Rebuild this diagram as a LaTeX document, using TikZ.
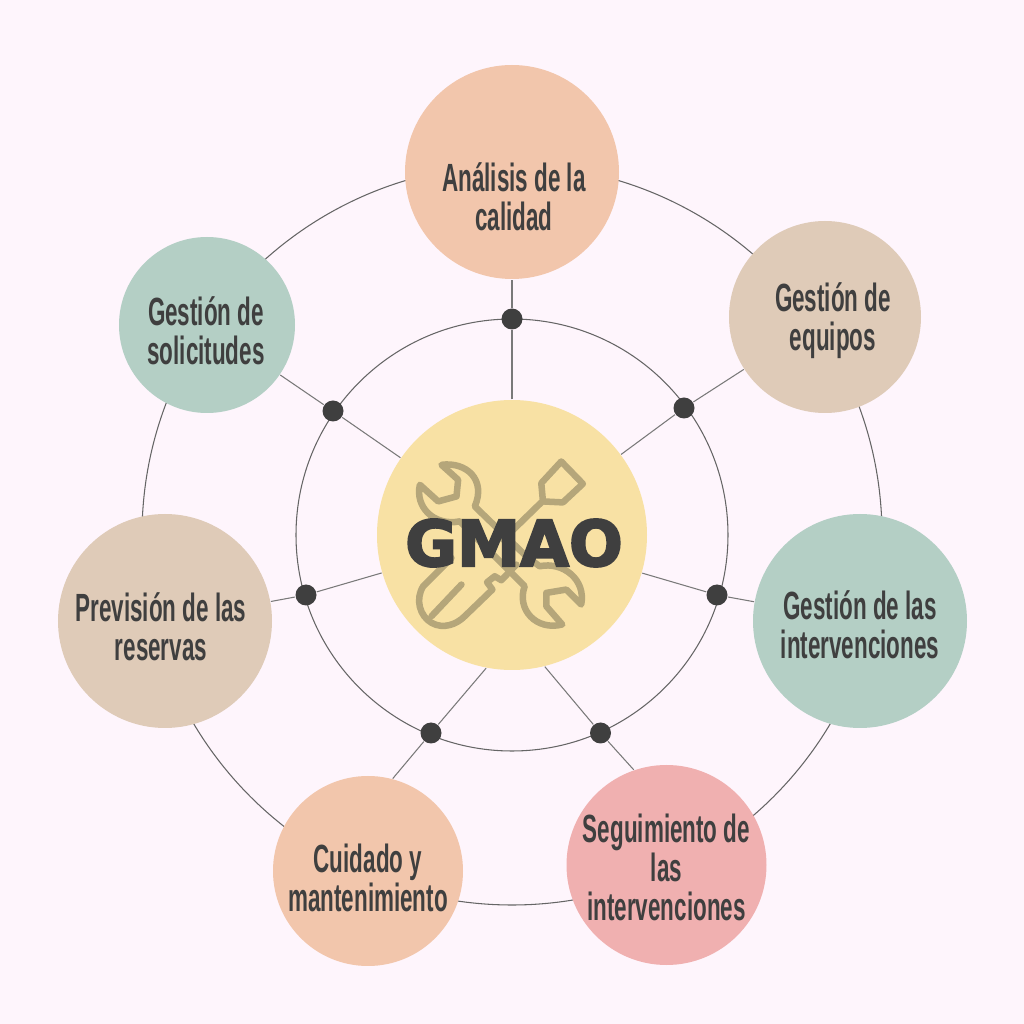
\documentclass[tikz,border=0pt]{standalone}
\usepackage{fontspec}
\newfontfamily\bubblefont[FakeStretch=0.57]{Liberation Sans}
\newfontfamily\hubfont[BoldFeatures={FakeBold=3.2}]{DejaVu Sans}
\definecolor{fondo}{HTML}{FEF5FC}
\definecolor{durazno}{HTML}{F2C6AC}
\definecolor{arena}{HTML}{DFCBB8}
\definecolor{salvia}{HTML}{B4CFC5}
\definecolor{rosa}{HTML}{F0B0B0}
\definecolor{crema}{HTML}{F8E1A4}
\definecolor{tinta}{HTML}{3F3F3F}
\definecolor{herramienta}{HTML}{B5A67A}
\tikzset{
  bubble/.style={circle, inner sep=0pt},
  bubbletext/.style={text=tinta, align=center, inner sep=0pt, font=\bubblefont\bfseries\fontsize{11.2}{11.1}\selectfont},
  joint/.style={circle, fill=tinta, minimum size=0.21cm, inner sep=0pt},
  ring/.style={draw=tinta!80, line width=0.3pt},
  spoke/.style={draw=tinta!70, line width=0.3pt},
  toolline/.style={draw=herramienta, line width=1.85pt, line join=round, line cap=round}
}
\begin{document}
\begin{tikzpicture}
    % Fondo
    \fill[fondo] (0,0) rectangle (10.24,10.24);
    \useasboundingbox (0,0) rectangle (10.24,10.24);
    % Anillos
    \coordinate (centro) at (5.12,4.89);
    \draw[ring] (centro) circle (3.7cm);
    \draw[ring] (centro) circle (2.16cm);
    % Circulo central
    \node[bubble, fill=crema, minimum size=2.7cm] (gmao) at (centro) {};
    % Llave y destornillador
    \begin{scope}[shift={(3.70,6.34)}, x=0.003333cm, y=-0.003333cm]
        \draw[toolline] (215,225) .. controls (290,215) and (350,270) .. (315,350)
            -- (470,500) -- (510,530) .. controls (580,515) and (650,570) .. (635,645)
            -- (590,600) -- (530,610) -- (530,650) -- (578,705)
            .. controls (500,725) and (440,660) .. (465,590)
            -- (270,395) .. controls (190,410) and (135,350) .. (150,285)
            -- (205,335) -- (260,320) -- (265,270) -- cycle;
        \draw[toolline] (575,215) -- (640,282) -- (580,338) -- (520,335) -- (515,280) -- cycle;
        \draw[toolline] (515,338) -- (400,450);
        \draw[toolline] (245,505) -- (160,590) .. controls (135,630) and (150,680) .. (185,700)
            .. controls (220,720) and (260,705) .. (285,680) -- (368,600)
            -- (352,578) -- (375,560) -- (395,572) -- (440,525);
        \draw[toolline] (275,585) -- (185,680);
    \end{scope}
    \node[text=tinta, inner sep=0pt, font=\hubfont\bfseries\fontsize{18}{20}\selectfont] (gmaotext) at (5.14,4.81) {GMAO};
    % Circulos exteriores
    \node[bubble, fill=durazno, minimum size=2.14cm] (calidad) at (5.12,8.52) {};
    \node[bubble, fill=arena, minimum size=1.92cm] (equipos) at (8.25,7.07) {};
    \node[bubble, fill=salvia, minimum size=2.14cm] (intervenciones) at (8.60,4.03) {};
    \node[bubble, fill=rosa, minimum size=2.00cm] (seguimiento) at (6.665,1.59) {};
    \node[bubble, fill=durazno, minimum size=1.90cm] (cuidado) at (3.68,1.53) {};
    \node[bubble, fill=arena, minimum size=2.14cm] (reservas) at (1.65,4.03) {};
    \node[bubble, fill=salvia, minimum size=1.76cm] (solicitudes) at (2.07,6.99) {};
    % Textos
    \node[bubbletext] (calidadtext) at (5.14,8.27) {An\'alisis de la\\calidad};
    \node[bubbletext] (equipostext) at (8.33,7.03) {Gesti\'on de\\equipos};
    \node[bubbletext] (intervencionestext) at (8.60,3.99) {Gesti\'on de las\\intervenciones};
    \node[bubbletext] (seguimientotext) at (6.665,1.57) {Seguimiento de\\las\\intervenciones};
    \node[bubbletext] (cuidadotext) at (3.68,1.46) {Cuidado y\\mantenimiento};
    \node[bubbletext] (reservastext) at (1.61,3.97) {Previsi\'on de las\\reservas};
    \node[bubbletext] (solicitudestext) at (2.06,6.93) {Gesti\'on de\\solicitudes};
    % Puntos sobre el anillo interior
    \node[joint] (pcalidad) at (5.12,7.05) {};
    \node[joint] (pequipos) at (6.84,6.16) {};
    \node[joint] (pintervenciones) at (7.17,4.29) {};
    \node[joint] (pseguimiento) at (6.005,2.91) {};
    \node[joint] (pcuidado) at (4.31,2.91) {};
    \node[joint] (preservas) at (3.06,4.29) {};
    \node[joint] (psolicitudes) at (3.33,6.13) {};
    % Radios
    \draw[spoke] (gmao) -- (pcalidad) -- (calidad);
    \draw[spoke] (gmao) -- (pequipos) -- (equipos);
    \draw[spoke] (gmao) -- (pintervenciones) -- (intervenciones);
    \draw[spoke] (gmao.-76) -- (pseguimiento) -- (seguimiento.109);
    \draw[spoke] (gmao.259) -- (pcuidado) -- (cuidado.75);
    \draw[spoke] (gmao) -- (preservas) -- (reservas);
    \draw[spoke] (gmao) -- (psolicitudes) -- (solicitudes);
\end{tikzpicture}
\end{document}
